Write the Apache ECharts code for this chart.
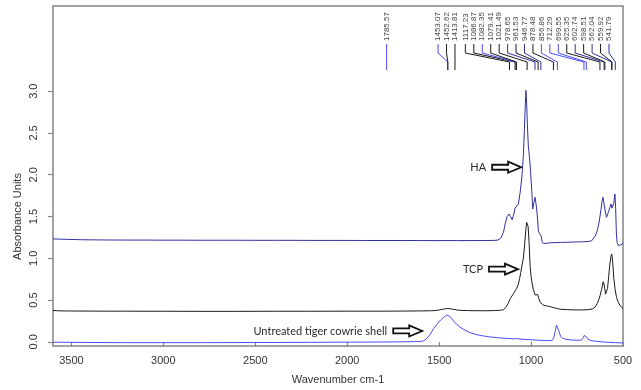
<!DOCTYPE html>
<html>
<head>
<meta charset="utf-8">
<script src="https://cdn.jsdelivr.net/npm/echarts@6/dist/echarts.min.js"></script>
<style>
  html, body { margin: 0; padding: 0; background: #fff; }
  #chart { width: 641px; height: 390px; }
</style>
</head>
<body>
<div id="chart"></div>
<script>
// spectra: [wavenumber, absorbance]
var haSpectrum = [
  [3600,1.232],[3560,1.229],[3520,1.226],[3480,1.224],[3440,1.222],[3400,1.221],[3300,1.219],[3200,1.218],
  [3100,1.218],[3000,1.217],[2900,1.217],[2800,1.216],[2700,1.216],[2600,1.216],[2500,1.215],[2400,1.215],
  [2300,1.215],[2200,1.214],[2100,1.214],[2000,1.214],[1900,1.213],[1800,1.213],[1700,1.213],[1600,1.212],
  [1500,1.212],[1400,1.212],[1300,1.212],[1250,1.213],[1200,1.214],[1180,1.218],[1165,1.24],[1150,1.31],
  [1140,1.42],[1130,1.5],[1120,1.53],[1112,1.5],[1103,1.46],[1095,1.52],[1087,1.6],[1078,1.61],[1069,1.65],
  [1060,1.78],[1051,1.95],[1042,2.22],[1036,2.55],[1032,2.8],[1028,3.01],[1024,2.85],[1020,2.6],[1015,2.35],
  [1009,2.22],[1003,2.05],[996,1.8],[991,1.59],[985,1.66],[978,1.73],[973,1.65],[969,1.58],[964,1.45],
  [960,1.32],[955,1.32],[950,1.33],[946,1.27],[940,1.2],[933,1.175],[925,1.18],[900,1.185],[870,1.187],
  [840,1.19],[800,1.192],[760,1.195],[720,1.198],[690,1.2],[670,1.21],[660,1.23],[650,1.27],[640,1.33],
  [630,1.43],[620,1.58],[614,1.68],[609,1.73],[604,1.66],[598,1.58],[590,1.49],[585,1.5],[578,1.56],
  [571,1.61],[565,1.65],[560,1.6],[556,1.58],[550,1.66],[544,1.77],[540,1.6],[536,1.3],[532,1.19],
  [526,1.155],[518,1.15],[510,1.16],[500,1.185]
];
var tcpSpectrum = [
  [3600,0.376],[3580,0.372],[3550,0.37],[3500,0.369],[3400,0.368],[3300,0.367],[3200,0.367],[3100,0.366],
  [3000,0.366],[2800,0.365],[2600,0.365],[2400,0.366],[2200,0.366],[2000,0.367],[1800,0.367],[1700,0.368],
  [1600,0.37],[1540,0.372],[1510,0.377],[1485,0.388],[1465,0.396],[1452,0.4],[1440,0.395],[1420,0.388],
  [1400,0.38],[1370,0.375],[1340,0.374],[1300,0.372],[1250,0.372],[1200,0.374],[1165,0.378],[1150,0.385],
  [1138,0.41],[1125,0.46],[1112,0.52],[1105,0.54],[1095,0.58],[1087,0.6],[1078,0.64],[1069,0.69],
  [1062,0.76],[1056,0.83],[1049,0.92],[1042,1.0],[1035,1.16],[1029,1.33],[1024,1.43],[1020,1.45],
  [1016,1.38],[1011,1.2],[1005,0.9],[1000,0.78],[996,0.72],[988,0.63],[978,0.56],[970,0.55],[964,0.565],
  [958,0.52],[950,0.47],[942,0.45],[930,0.435],[915,0.43],[895,0.42],[879,0.41],[860,0.4],[842,0.39],
  [800,0.385],[760,0.382],[720,0.382],[690,0.385],[665,0.395],[650,0.42],[640,0.46],[634,0.49],[625,0.55],
  [616,0.63],[608,0.72],[602,0.68],[595,0.57],[590,0.56],[584,0.64],[578,0.78],[572,0.92],[566,1.02],
  [561,1.05],[556,0.95],[550,0.76],[543,0.63],[535,0.53],[525,0.47],[515,0.43],[505,0.41],[500,0.4]
];
var shellSpectrum = [
  [3600,-0.004],[3500,-0.006],[3400,-0.008],[3200,-0.01],[3000,-0.01],[2800,-0.01],[2600,-0.009],
  [2400,-0.008],[2200,-0.006],[2000,-0.004],[1900,-0.003],[1800,-0.002],[1700,0.0],[1640,0.002],
  [1600,0.005],[1585,0.012],[1570,0.035],[1550,0.085],[1531,0.155],[1510,0.215],[1490,0.265],[1472,0.3],
  [1460,0.318],[1453,0.32],[1445,0.31],[1432,0.28],[1422,0.25],[1405,0.21],[1386,0.175],[1360,0.14],
  [1332,0.11],[1300,0.088],[1259,0.07],[1220,0.058],[1168,0.046],[1120,0.04],[1095,0.036],[1087,0.052],
  [1080,0.04],[1060,0.033],[1000,0.025],[950,0.018],[900,0.014],[885,0.018],[876,0.05],[868,0.13],
  [862,0.2],[858,0.215],[853,0.19],[847,0.12],[840,0.07],[830,0.045],[810,0.03],[780,0.022],[740,0.018],
  [725,0.022],[716,0.05],[712,0.075],[706,0.06],[700,0.062],[694,0.04],[685,0.022],[660,0.01],[620,0.0],
  [580,-0.006],[540,-0.01],[500,-0.014]
];

var xTicks = [500, 1000, 1500, 2000, 2500, 3000, 3500];
var yTicks = [0, 0.5, 1, 1.5, 2, 2.5, 3];

// picked peaks (label text, position, spectrum)
var peakNames = ['1785.57','1453.07','1452.62','1413.81','1117.23','1086.87','1082.35','1079.41','1021.49',
  '978.65','961.53','946.77','878.48','856.86','712.29','699.55','625.35','602.74','598.51','562.04',
  '559.92','541.79'];
var peakWaves = [1785.57,1453.07,1452.62,1413.81,1117.23,1086.87,1082.35,1079.41,1021.49,978.65,961.53,
  946.77,878.48,856.86,712.29,699.55,625.35,602.74,598.51,562.04,559.92,541.79];
var peakOwner = ['shell','shell','tcp','tcp','tcp','tcp','shell','tcp','tcp','ha','tcp','ha','tcp','shell',
  'shell','shell','tcp','ha','tcp','ha','tcp','ha'];

// arrow notes: text and arrow tip [wavenumber, absorbance]
var noteTexts = ['HA', 'TCP', 'Untreated tiger cowrie shell'];
var noteTips = [[1054, 2.09], [1071, 0.87], [1592, 0.13]];

var colors = { ha: '#30309e', tcp: '#1a1a1a', shell: '#4b4bff' };
var axisGray = '#858585';
var textColor = '#333';
var font = 'Liberation Sans, Arial, sans-serif';

var chart = echarts.init(document.getElementById('chart'));

function lineSeries(name, data, color) {
  return {
    name: name,
    type: 'line',
    data: data,
    showSymbol: false,
    silent: true,
    lineStyle: { color: color, width: 1 },
    itemStyle: { color: color }
  };
}

chart.setOption({
  animation: false,
  grid: { left: 53, right: 18, top: 6, bottom: 43, show: true, borderColor: axisGray, borderWidth: 1.5 },
  xAxis: {
    type: 'value', inverse: true, min: 500, max: 3600,
    name: 'Wavenumber cm-1', nameLocation: 'middle', nameGap: 28,
    nameTextStyle: { color: textColor, fontSize: 11, fontFamily: font },
    axisLine: { show: false },
    axisTick: { show: true, length: 5, customValues: xTicks, lineStyle: { color: axisGray, width: 1.2 } },
    axisLabel: {
      customValues: xTicks, color: textColor, fontSize: 11, fontFamily: font, margin: 9,
      formatter: function (v) { return String(v); }
    },
    splitLine: { show: false }
  },
  yAxis: {
    type: 'value', min: -0.05, max: 4.02,
    axisLine: { show: false },
    axisTick: { show: true, length: 5, customValues: yTicks, lineStyle: { color: axisGray, width: 1.2 } },
    axisLabel: {
      customValues: yTicks, rotate: 90, color: textColor, fontSize: 11, fontFamily: font, margin: 14,
      formatter: function (v) { return v.toFixed(1); }
    },
    splitLine: { show: false }
  },
  series: [
    lineSeries('Untreated tiger cowrie shell', shellSpectrum, colors.shell),
    lineSeries('TCP', tcpSpectrum, colors.tcp),
    lineSeries('HA', haSpectrum, colors.ha)
  ]
});

function toPx(w, a) { return chart.convertToPixel({ gridIndex: 0 }, [w, a]); }

var graphics = [];
var gridTop = 6;
var gridRight = 641 - 18;

// y axis title centred on the tick range
var yTop = toPx(3600, yTicks[yTicks.length - 1])[1];
var yBot = toPx(3600, yTicks[0])[1];
graphics.push({
  type: 'text', x: 18, y: (yTop + yBot) / 2, rotation: Math.PI / 2,
  style: { text: 'Absorbance Units', fill: textColor, fontSize: 11, fontFamily: font, align: 'center', verticalAlign: 'middle' }
});

// peak labels, spread so they do not overlap
var spacing = 8.45;
var targets = peakWaves.map(function (w) { return toPx(w, 0)[0]; });
var labelX = targets.slice();
var n = targets.length;
labelX[n - 1] = Math.min(targets[n - 1], gridRight - 14);
for (var i = n - 2; i >= 0; i--) {
  labelX[i] = Math.min(targets[i], labelX[i + 1] - spacing);
}
for (var j = 0; j < n; j++) {
  graphics.push({
    type: 'text', x: labelX[j], y: gridTop + 35, rotation: Math.PI / 2,
    style: { text: peakNames[j], fill: '#444', fontSize: 8, fontFamily: font, align: 'left', verticalAlign: 'middle' }
  });
  graphics.push({
    type: 'polyline',
    shape: { points: [[labelX[j], gridTop + 38], [labelX[j], gridTop + 47], [targets[j], gridTop + 56], [targets[j], gridTop + 64]] },
    style: { stroke: colors[peakOwner[j]], lineWidth: 1, fill: null }
  });
}

// block arrows with notes
noteTexts.forEach(function (t, k) {
  var p = toPx(noteTips[k][0], noteTips[k][1]);
  var tx = p[0], ty = p[1];
  graphics.push({
    type: 'polygon',
    shape: { points: [[tx - 29, ty - 2.5], [tx - 13, ty - 2.5], [tx - 13, ty - 5.5], [tx, ty], [tx - 13, ty + 5.5], [tx - 13, ty + 2.5], [tx - 29, ty + 2.5]] },
    style: { fill: '#fff', stroke: '#111', lineWidth: 1.8 }
  });
  graphics.push({
    type: 'text', x: tx - 35, y: ty,
    style: { text: t, fill: '#2a2a2a', fontSize: 11, fontFamily: 'Lato, Liberation Sans, sans-serif', align: 'right', verticalAlign: 'middle' }
  });
});

chart.setOption({ graphic: graphics });

window.addEventListener('resize', function () { chart.resize(); });
</script>
</body>
</html>
